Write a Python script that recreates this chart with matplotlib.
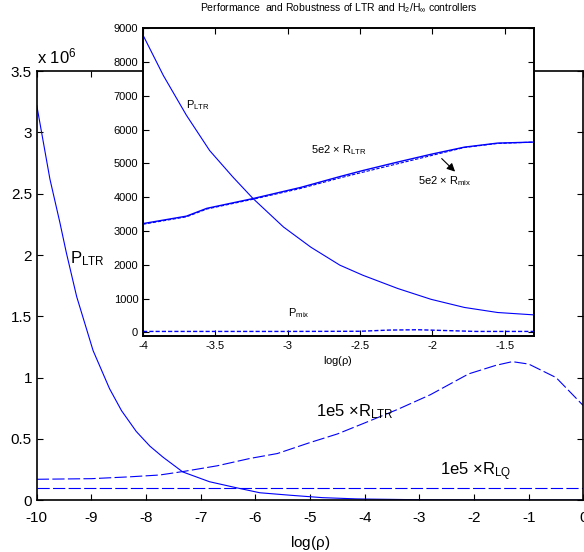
import matplotlib
matplotlib.use('Agg')
import matplotlib.pyplot as plt

plt.rcParams['font.family'] = ['Liberation Sans', 'DejaVu Sans']
plt.rcParams['mathtext.fontset'] = 'custom'
plt.rcParams['mathtext.rm'] = 'Liberation Sans'
plt.rcParams['mathtext.default'] = 'regular'
plt.rcParams['axes.unicode_minus'] = False

# outer plot, values in units of 1e6
x_p_ltr = [-10, -9.76, -9.58, -9.46, -9.27, -8.97, -8.67, -8.45, -8.18, -7.93, -7.69,
           -7.33, -6.84, -6.34, -5.92, -5.37, -4.77, -4.15, -4.0, -3.0, -2.0, -1.0, 0.0]
p_ltr = [3.22, 2.62, 2.27, 2.02, 1.66, 1.22, 0.91, 0.73, 0.56, 0.44, 0.35,
         0.23, 0.15, 0.10, 0.06, 0.04, 0.02, 0.01, 0.0088, 0.0031, 0.001, 0.0004, 0.0002]

x_r_ltr = [-10, -9, -8.3, -7.75, -7.3, -6.7, -6.1, -5.6, -5.0, -4.5, -4.0,
           -3.4, -2.8, -2.1, -1.6, -1.3, -1.0, -0.5, 0.0]
r_ltr = [0.17, 0.175, 0.19, 0.205, 0.235, 0.28, 0.34, 0.38, 0.47, 0.54, 0.63,
         0.74, 0.86, 1.03, 1.10, 1.13, 1.11, 1.00, 0.77]

x_r_lq = [-10, 0]
r_lq = [0.098, 0.098]

# inset plot
xi_p_ltr = [-4.0, -3.86, -3.70, -3.54, -3.38, -3.24, -3.03, -2.84, -2.64, -2.48,
            -2.24, -2.01, -1.78, -1.55, -1.3]
pi_ltr = [8790, 7600, 6420, 5380, 4600, 3960, 3120, 2520, 1990, 1690,
          1300, 980, 740, 590, 520]

xi_r = [-4.0, -3.70, -3.56, -3.24, -2.91, -2.64, -2.48, -2.24, -2.01, -1.78, -1.55, -1.3]
ri_ltr = [3220, 3440, 3670, 3960, 4290, 4610, 4790, 5040, 5270, 5480, 5600, 5630]
ri_mix = [3200, 3420, 3650, 3940, 4260, 4570, 4740, 4990, 5230, 5470, 5590, 5630]

xi_p_mix = [-4, -3, -2.5, -2.3, -2.1, -1.9, -1.7, -1.3]
pi_mix = [30, 30, 35, 70, 80, 55, 30, 30]

fig = plt.figure(figsize=(5.84, 5.52), dpi=100)

ax = fig.add_axes([0.063, 0.094, 0.936, 0.777])
ax.plot(x_p_ltr, p_ltr, color='b', lw=0.8)
ax.plot(x_r_ltr, r_ltr, color='b', lw=0.8, dashes=(11, 3))
ax.plot(x_r_lq, r_lq, color='b', lw=0.8, dashes=(11, 3))
ax.set_xlim(-10, 0)
ax.set_ylim(0, 3.5)
ax.set_xticks(range(-10, 1))
ax.set_yticks([0, 0.5, 1, 1.5, 2, 2.5, 3, 3.5])
ax.set_yticklabels(['0', '0.5', '1', '1.5', '2', '2.5', '3', '3.5'])
ax.tick_params(direction='in', top=True, right=True, labelsize=11, length=4, width=0.8)
ax.tick_params(axis='x', pad=8)
for s in ax.spines.values():
    s.set_linewidth(1.2)
ax.set_xlabel(r'log($\rho$)', fontsize=11, labelpad=6)
ax.text(0.0, 1.012, r'x 10$^6$', transform=ax.transAxes, fontsize=12, ha='left', va='bottom')
ax.text(-9.40, 1.97, r'P$_{LTR}$', fontsize=12, va='center')
ax.text(-4.90, 0.72, r'1e5 $\times$R$_{LTR}$', fontsize=12, va='center')
ax.text(-2.62, 0.23, r'1e5 $\times$R$_{LQ}$', fontsize=12, va='center')

axi = fig.add_axes([0.245, 0.391, 0.669, 0.558])
axi.plot(xi_p_ltr, pi_ltr, color='b', lw=0.8)
axi.plot(xi_r, ri_ltr, color='b', lw=1.0)
axi.plot(xi_r, ri_mix, color='b', lw=0.8, dashes=(3, 1.5))
axi.plot(xi_p_mix, pi_mix, color='b', lw=1.0, dashes=(3, 1.5))
axi.set_xlim(-4, -1.3)
axi.set_ylim(-110, 9000)
axi.set_xticks([-4, -3.5, -3, -2.5, -2, -1.5])
axi.set_xticklabels(['-4', '-3.5', '-3', '-2.5', '-2', '-1.5'])
axi.set_yticks(range(0, 9001, 1000))
axi.tick_params(direction='in', top=True, right=True, labelsize=8, length=4, width=0.8)
for s in axi.spines.values():
    s.set_linewidth(1.4)
axi.set_xlabel(r'log($\rho$)', fontsize=8, labelpad=2)
axi.set_title('Performance  and Robustness of LTR and H$_2$/H$_\\infty$ controllers',
              fontsize=7.5, pad=12)
axi.text(-3.70, 6720, r'P$_{LTR}$', fontsize=8, va='center')
axi.text(-2.84, 5380, r'5e2 $\times$ R$_{LTR}$', fontsize=8, va='center')
axi.text(-2.10, 4470, r'5e2 $\times$ R$_{mix}$', fontsize=8, va='center')
axi.text(-3.0, 560, r'P$_{mix}$', fontsize=8, va='center')
axi.annotate('', xy=(-1.83, 4700), xytext=(-1.95, 5200),
             arrowprops=dict(arrowstyle='-|>', color='k', lw=0.8, mutation_scale=12))

fig.savefig('out.png', dpi=100)
